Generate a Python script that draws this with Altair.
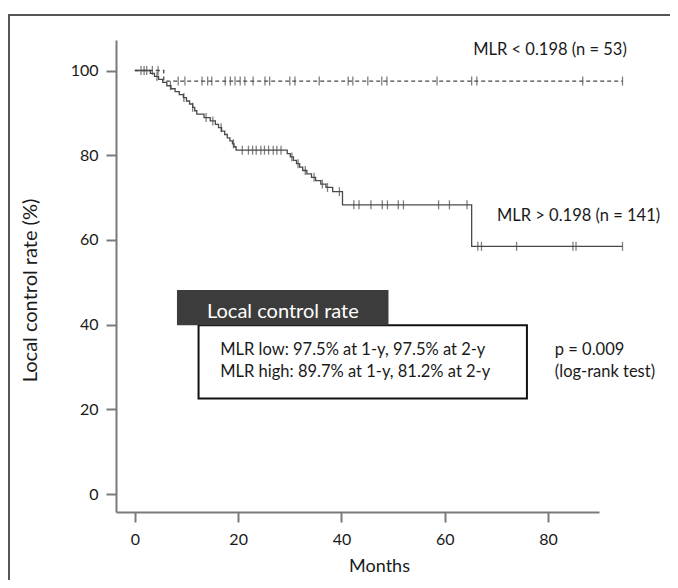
import altair as alt
import pandas as pd

# ---- data ----
x_ticks = [0, 20, 40, 60, 80]
y_ticks = [0, 20, 40, 60, 80, 100]

high_event_times = [3.0, 3.8, 4.6, 5.4, 6.2, 7.0, 7.8, 8.6, 9.4, 10.0, 10.6, 11.2, 11.6, 12.0,
                    13.4, 14.6, 15.6, 16.2, 16.8, 17.4, 17.9, 18.4, 18.9, 19.2, 19.6,
                    29.5, 30.1, 30.7, 31.3, 31.9, 32.5, 33.3, 34.2, 35.0, 36.0, 37.0, 38.3,
                    40.2, 65.2]
high_event_values = [99.3, 98.6, 97.9, 97.2, 96.4, 95.7, 95.0, 94.3, 93.6, 92.8, 92.1, 91.3, 90.5, 89.7,
                     88.9, 88.1, 87.3, 86.5, 85.7, 84.9, 84.1, 83.4, 82.7, 82.0, 81.2,
                     80.4, 79.6, 78.8, 78.0, 77.2, 76.4, 75.6, 74.8, 74.0, 73.2, 72.4, 71.4,
                     68.3, 58.5]
high_censor_times = [1.2, 2.3, 4.3, 6.9, 9.5, 11.2, 13.8, 15.1, 16.7, 19.1,
                     20.8, 22.0, 22.8, 23.5, 24.4, 25.1, 25.9, 26.8, 27.5, 28.3,
                     30.4, 31.6, 33.0, 34.7, 36.3, 37.3, 39.6,
                     42.4, 43.4, 45.7, 47.9, 48.9, 51.0, 52.0, 58.8, 60.9, 64.3,
                     66.4, 67.1, 73.9, 84.8, 85.4, 94.4]
high_end = 94.4

low_event_times = [5.6]
low_event_values = [97.5]
low_censor_times = [1.8, 3.4, 4.5, 8.4, 9.7, 13.0, 14.1, 14.9, 17.5, 18.5, 19.4, 20.4, 21.3, 22.9,
                    25.2, 26.1, 30.0, 31.0, 35.7, 41.3, 42.2, 45.1, 47.8, 48.8, 58.5, 65.2,
                    66.2, 86.7, 94.4]
low_end = 94.4

group_labels = ["MLR < 0.198 (n = 53)", "MLR > 0.198 (n = 141)"]
box_title = "Local control rate"
box_lines = ["MLR low: 97.5% at 1-y, 97.5% at 2-y", "MLR high: 89.7% at 1-y, 81.2% at 2-y"]
p_lines = ["p = 0.009", "(log-rank test)"]


def curve(times, values, end, group):
    rows = [{"t": 0.0, "s": 100.0, "g": group}]
    for t, v in zip(times, values):
        rows.append({"t": t, "s": v, "g": group})
    rows.append({"t": end, "s": values[-1], "g": group})
    return rows


def at(times, values, t):
    s = 100.0
    for tt, v in zip(times, values):
        if tt <= t:
            s = v
    return s


high_df = pd.DataFrame(curve(high_event_times, high_event_values, high_end, "high"))
low_df = pd.DataFrame(curve(low_event_times, low_event_values, low_end, "low"))
cens = pd.DataFrame(
    [{"t": t, "s": at(high_event_times, high_event_values, t)} for t in high_censor_times]
    + [{"t": t, "s": at(low_event_times, low_event_values, t)} for t in low_censor_times]
)

FONT = "Lato"
LINE = "#4a4a4a"
AX = "#7a7a7a"
FS = 16.5

xs = alt.Scale(domain=[-3.64, 89.85], nice=False, zero=False)
ys = alt.Scale(domain=[-4.2, 107.2], nice=False, zero=False)

xaxis = alt.Axis(values=x_ticks, title="Months", grid=False, titleFontSize=18,
                 titleFontWeight="normal", titleFont=FONT, titleColor="#1a1a1a",
                 titleX=263, titleAlign="center", titleY=54, titleBaseline="middle",
                 labelPadding=9, zindex=1)
yaxis = alt.Axis(values=y_ticks, title="Local control rate (%)", grid=False, titleFontSize=20,
                 titleFontWeight="normal", titleFont=FONT, titleColor="#1a1a1a",
                 titleX=-86, titleY=250, titleAlign="center", titleBaseline="middle",
                 labelPadding=8, zindex=1)

frame = alt.Chart(pd.DataFrame({"a": [0]})).mark_rect(
    fillOpacity=0, stroke="#555555", strokeWidth=2
).encode(x=alt.value(-107), x2=alt.value(700), y=alt.value(-25), y2=alt.value(700))

high_line = alt.Chart(high_df).mark_line(interpolate="step-after", color=LINE, strokeWidth=1.3).encode(
    x=alt.X("t:Q", scale=xs, axis=xaxis), y=alt.Y("s:Q", scale=ys, axis=yaxis))
low_line = alt.Chart(low_df).mark_line(interpolate="step-after", color=LINE, strokeWidth=1.3,
                                       strokeDash=[4, 3]).encode(
    x=alt.X("t:Q", scale=xs), y=alt.Y("s:Q", scale=ys))
ticks = alt.Chart(cens).mark_tick(orient="vertical", color=LINE, thickness=1.3, size=9).encode(
    x=alt.X("t:Q", scale=xs), y=alt.Y("s:Q", scale=ys))

lab_df = pd.DataFrame({"t": [65.5, 70.1], "s": [104.8, 65.6], "label": group_labels})
labels = alt.Chart(lab_df).mark_text(align="left", baseline="middle", font=FONT, fontSize=FS,
                                     color="#1a1a1a").encode(
    x=alt.X("t:Q", scale=xs), y=alt.Y("s:Q", scale=ys), text="label:N")

box = alt.Chart(pd.DataFrame({"x": [12.34], "x2": [75.9], "y": [39.9], "y2": [22.6]})).mark_rect(
    fill="white", stroke="#111111", strokeWidth=2).encode(
    x=alt.X("x:Q", scale=xs), x2="x2:Q", y=alt.Y("y:Q", scale=ys), y2="y2:Q")
header = alt.Chart(pd.DataFrame({"x": [8.16], "x2": [49.1], "y": [48.2], "y2": [39.9]})).mark_rect(
    fill="#3c3c3c").encode(
    x=alt.X("x:Q", scale=xs), x2="x2:Q", y=alt.Y("y:Q", scale=ys), y2="y2:Q")
header_text = alt.Chart(pd.DataFrame({"t": [13.97], "s": [43.1], "label": [box_title]})).mark_text(
    align="left", baseline="middle", font=FONT, fontSize=20, color="white").encode(
    x=alt.X("t:Q", scale=xs), y=alt.Y("s:Q", scale=ys), text="label:N")
box_text = alt.Chart(pd.DataFrame({"t": [16.54, 16.54], "s": [34.0, 28.9], "label": box_lines})).mark_text(
    align="left", baseline="middle", font=FONT, fontSize=FS, color="#1a1a1a").encode(
    x=alt.X("t:Q", scale=xs), y=alt.Y("s:Q", scale=ys), text="label:N")
p_text = alt.Chart(pd.DataFrame({"t": [81.3, 81.3], "s": [34.0, 28.9], "label": p_lines})).mark_text(
    align="left", baseline="middle", font=FONT, fontSize=FS, color="#1a1a1a").encode(
    x=alt.X("t:Q", scale=xs), y=alt.Y("s:Q", scale=ys), text="label:N")

chart = alt.layer(
    high_line, frame, low_line, ticks, labels, box, header, header_text, box_text, p_text
).properties(
    width=483, height=472,
    autosize=alt.AutoSizeParams(type="none"),
    padding={"left": 108, "top": 32, "right": 71, "bottom": 68},
    background="white",
).configure_view(stroke=None).configure_axis(
    domainColor=AX, domainWidth=2, tickColor=AX, tickWidth=2, tickSize=10,
    labelFont=FONT, labelFontSize=16, labelColor="#1a1a1a",
)

chart.save("out.html", embed_options={"renderer": "svg", "actions": False})
